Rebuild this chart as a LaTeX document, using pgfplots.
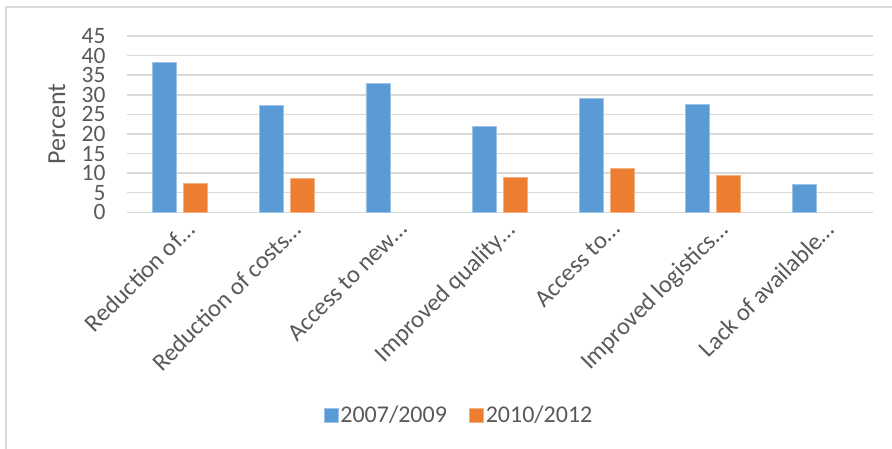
\documentclass[border=0pt]{standalone}
\usepackage{fontspec}
\setmainfont{Carlito}
\usepackage{pgfplots}
\pgfplotsset{compat=1.18}
\definecolor{cblue}{HTML}{5B9BD5}
\definecolor{corange}{HTML}{ED7D31}
\definecolor{ctext}{HTML}{595959}
\definecolor{cgrid}{HTML}{D9D9D9}
\begin{document}
\begin{tikzpicture}
\path[use as bounding box] (0pt,0pt) rectangle (892pt,-449pt);
\draw[cgrid,line width=1.5pt] (6pt,-449pt) -- (6pt,-7pt) -- (892pt,-7pt);
\begin{axis}[
  at={(127pt,-212.3pt)}, anchor=south west,
  scale only axis,
  width=746pt, height=176.3pt,
  ybar=7pt, bar width=24pt,
  xmin=-0.5, xmax=6.5,
  ymin=0, ymax=45,
  ytick={0,5,...,45},
  xtick=data,
  xticklabels={Reduction of\ldots,Reduction of costs\ldots,Access to new\ldots,Improved quality\ldots,Access to\ldots,Improved logistics\ldots,Lack of available\ldots},
  x tick label style={xshift=4pt, yshift=-7pt, rotate=45, anchor=north east, inner sep=0pt, font=\fontsize{24.5}{25}\selectfont, text=ctext},
  y tick label style={font=\fontsize{23.5}{24}\selectfont, text=ctext, xshift=-18pt, inner ysep=0pt},
  /pgf/number format/assume math mode=true,
  ymajorgrids, grid style={cgrid, line width=1.5pt},
  axis line style={draw=none},
  axis x line*=bottom,
  x axis line style={cgrid, line width=1.5pt},
  major tick length=0pt,
  ylabel={Percent},
  ylabel style={at={(axis description cs:-0.094,0.5)}, anchor=center, font=\fontsize{26}{27}\selectfont, text=ctext},
  legend style={at={(0.445,-1.15)}, anchor=center, draw=none, fill=none,
    font=\fontsize{24}{25}\selectfont, text=ctext, legend columns=2,
    /tikz/every even column/.append style={column sep=20pt}},
  legend image code/.code={\fill[#1] (-3pt,-7pt) rectangle (11pt,7pt);},
  enlarge x limits=false,
]
\addplot[fill=cblue, draw=cblue!60!white, line width=0.8pt] coordinates {(0,38.2) (1,27.3) (2,32.9) (3,22.0) (4,29.0) (5,27.6) (6,7.1)};
\addplot[fill=corange, draw=corange!60!white, line width=0.8pt] coordinates {(0,7.4) (1,8.7) (3,8.8) (4,11.2) (5,9.3)};
\legend{2007/2009,2010/2012}
\end{axis}
\end{tikzpicture}
\end{document}
